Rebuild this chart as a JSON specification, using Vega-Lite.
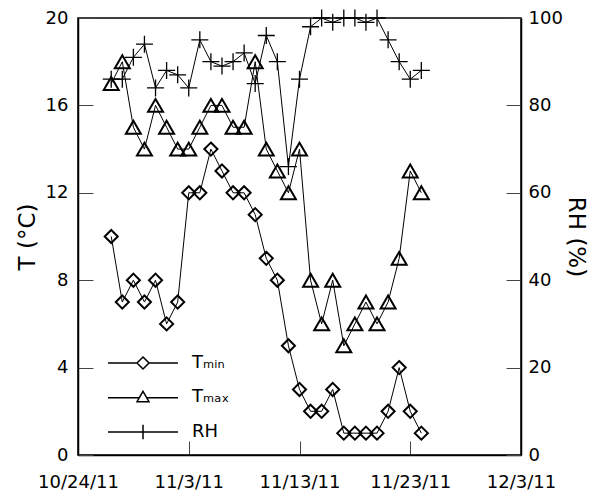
{
  "$schema": "https://vega.github.io/schema/vega-lite/v6.json",
  "width": 443,
  "height": 437,
  "autosize": {"type": "none"},
  "padding": {"left": 78, "top": 18, "right": 73, "bottom": 41},
  "background": "white",
  "config": {
    "font": "DejaVu Sans",
    "view": {"stroke": "black", "strokeWidth": 1.5},
    "axis": {
      "grid": false,
      "domainColor": "black",
      "domainWidth": 1.5,
      "tickColor": "#444",
      "tickWidth": 1,
      "tickSize": -15,
      "labelFont": "DejaVu Sans",
      "labelFontSize": 18,
      "labelColor": "black",
      "labelFlush": false,
      "labelOverlap": false,
      "titleFont": "DejaVu Sans",
      "titleFontSize": 23,
      "titleFontWeight": "normal",
      "titleColor": "black"
    }
  },
  "data": {
    "values": [
      {"date": "2011-10-27", "tmin": 10, "tmax": 17, "rh": 86},
      {"date": "2011-10-28", "tmin": 7, "tmax": 18, "rh": 86},
      {"date": "2011-10-29", "tmin": 8, "tmax": 15, "rh": 91},
      {"date": "2011-10-30", "tmin": 7, "tmax": 14, "rh": 94},
      {"date": "2011-10-31", "tmin": 8, "tmax": 16, "rh": 84},
      {"date": "2011-11-01", "tmin": 6, "tmax": 15, "rh": 88},
      {"date": "2011-11-02", "tmin": 7, "tmax": 14, "rh": 87},
      {"date": "2011-11-03", "tmin": 12, "tmax": 14, "rh": 84},
      {"date": "2011-11-04", "tmin": 12, "tmax": 15, "rh": 95},
      {"date": "2011-11-05", "tmin": 14, "tmax": 16, "rh": 90},
      {"date": "2011-11-06", "tmin": 13, "tmax": 16, "rh": 89},
      {"date": "2011-11-07", "tmin": 12, "tmax": 15, "rh": 90},
      {"date": "2011-11-08", "tmin": 12, "tmax": 15, "rh": 92},
      {"date": "2011-11-09", "tmin": 11, "tmax": 18, "rh": 85},
      {"date": "2011-11-10", "tmin": 9, "tmax": 14, "rh": 96},
      {"date": "2011-11-11", "tmin": 8, "tmax": 13, "rh": 90},
      {"date": "2011-11-12", "tmin": 5, "tmax": 12, "rh": 66},
      {"date": "2011-11-13", "tmin": 3, "tmax": 14, "rh": 86},
      {"date": "2011-11-14", "tmin": 2, "tmax": 8, "rh": 98},
      {"date": "2011-11-15", "tmin": 2, "tmax": 6, "rh": 100},
      {"date": "2011-11-16", "tmin": 3, "tmax": 8, "rh": 99},
      {"date": "2011-11-17", "tmin": 1, "tmax": 5, "rh": 100},
      {"date": "2011-11-18", "tmin": 1, "tmax": 6, "rh": 100},
      {"date": "2011-11-19", "tmin": 1, "tmax": 7, "rh": 99},
      {"date": "2011-11-20", "tmin": 1, "tmax": 6, "rh": 100},
      {"date": "2011-11-21", "tmin": 2, "tmax": 7, "rh": 95},
      {"date": "2011-11-22", "tmin": 4, "tmax": 9, "rh": 90},
      {"date": "2011-11-23", "tmin": 2, "tmax": 13, "rh": 86},
      {"date": "2011-11-24", "tmin": 1, "tmax": 12, "rh": 88}
    ]
  },
  "encoding": {
    "x": {
      "field": "date",
      "type": "temporal",
      "scale": {
        "type": "utc",
        "domain": [
          {"year": 2011, "month": 10, "date": 24, "utc": true},
          {"year": 2011, "month": 12, "date": 3, "utc": true}
        ]
      },
      "axis": {
        "title": null,
        "labelExpr": "utcFormat(datum.value, '%-m/%-d/%y')",
        "tickSize": -14,
        "labelPadding": 32,
        "values": [
          {"year": 2011, "month": 10, "date": 24, "utc": true},
          {"year": 2011, "month": 11, "date": 3, "utc": true},
          {"year": 2011, "month": 11, "date": 13, "utc": true},
          {"year": 2011, "month": 11, "date": 23, "utc": true},
          {"year": 2011, "month": 12, "date": 3, "utc": true}
        ]
      }
    }
  },
  "layer": [
    {
      "transform": [{"fold": ["tmin", "tmax"], "as": ["key", "value"]}],
      "encoding": {
        "y": {
          "field": "value",
          "type": "quantitative",
          "scale": {"domain": [0, 20], "nice": false},
          "axis": {
            "orient": "left",
            "values": [0, 4, 8, 12, 16, 20],
            "title": "T (°C)",
            "titleAngle": -90,
            "titleX": -51,
            "titleY": 218.5,
            "titleAlign": "center",
            "titleBaseline": "middle",
            "labelPadding": 25
          }
        }
      },
      "layer": [
        {
          "mark": {"type": "line", "color": "black", "strokeWidth": 1},
          "encoding": {"detail": {"field": "key"}}
        },
        {
          "transform": [{"filter": "datum.key === 'tmin'"}],
          "mark": {"type": "point", "filled": false, "color": "black", "size": 289, "opacity": 1, "strokeWidth": 2,
                   "shape": "M0,-0.77L0.77,0L0,0.77L-0.77,0Z"}
        },
        {
          "transform": [{"filter": "datum.key === 'tmax'"}],
          "mark": {"type": "point", "filled": false, "color": "black", "size": 289, "opacity": 1, "strokeWidth": 2,
                   "shape": "M0,-0.76L0.88,0.76L-0.88,0.76Z"}
        }
      ]
    },
    {
      "transform": [{"fold": ["tmin", "tmax", "rh"], "as": ["key", "value"]}],
      "encoding": {
        "y": {
          "field": "value",
          "type": "quantitative",
          "scale": {"domain": [0, 100], "nice": false},
          "axis": {
            "orient": "right",
            "values": [0, 20, 40, 60, 80, 100],
            "title": "RH (%)",
            "titleAngle": 90,
            "titleX": 54,
            "titleY": 218.5,
            "titleAlign": "center",
            "titleBaseline": "middle",
            "labelPadding": 22
          }
        }
      },
      "layer": [
        {
          "transform": [{"filter": "datum.key === 'rh'"}],
          "mark": {"type": "line", "color": "black", "strokeWidth": 1}
        },
        {
          "transform": [{"filter": "datum.key === 'rh'"}],
          "mark": {"type": "point", "filled": false, "color": "black", "size": 289, "opacity": 1, "strokeWidth": 1.3,
                   "shape": "M-1,0H1M0,-1V1"}
        },
        {
          "mark": {"type": "point", "filled": false, "color": "black", "size": 0, "opacity": 1, "strokeWidth": 1.5},
          "encoding": {
            "shape": {
              "field": "key",
              "type": "nominal",
              "scale": {
                "domain": ["tmin", "tmax", "rh"],
                "range": [
                  "M-5.83,0H-1M1,0H5.83M0,-1L1,0L0,1L-1,0Z",
                  "M-5.83,0.2H-0.61M0.61,0.2H5.83M0,-0.87L1,0.87L-1,0.87Z",
                  "M-5.83,0H5.83M0,-1.2V1.2"
                ]
              },
              "legend": {
                "orient": "none",
                "legendX": 56,
                "legendY": 336,
                "title": null,
                "direction": "vertical",
                "padding": 0,
                "symbolSize": 144,
                "symbolOpacity": 1,
                "symbolStrokeWidth": 1.5,
                "symbolStrokeColor": "black",
                "symbolFillColor": "transparent",
                "labelFont": "DejaVu Sans",
                "labelFontSize": 18,
                "labelColor": "black",
                "labelOffset": 40,
                "rowPadding": 15.5,
                "labelExpr": "datum.value === 'tmin' ? 'Tₘᵢₙ' : datum.value === 'tmax' ? 'Tₘₐₓ' : 'RH'"
              }
            }
          }
        }
      ]
    }
  ],
  "resolve": {"scale": {"y": "independent"}}
}
